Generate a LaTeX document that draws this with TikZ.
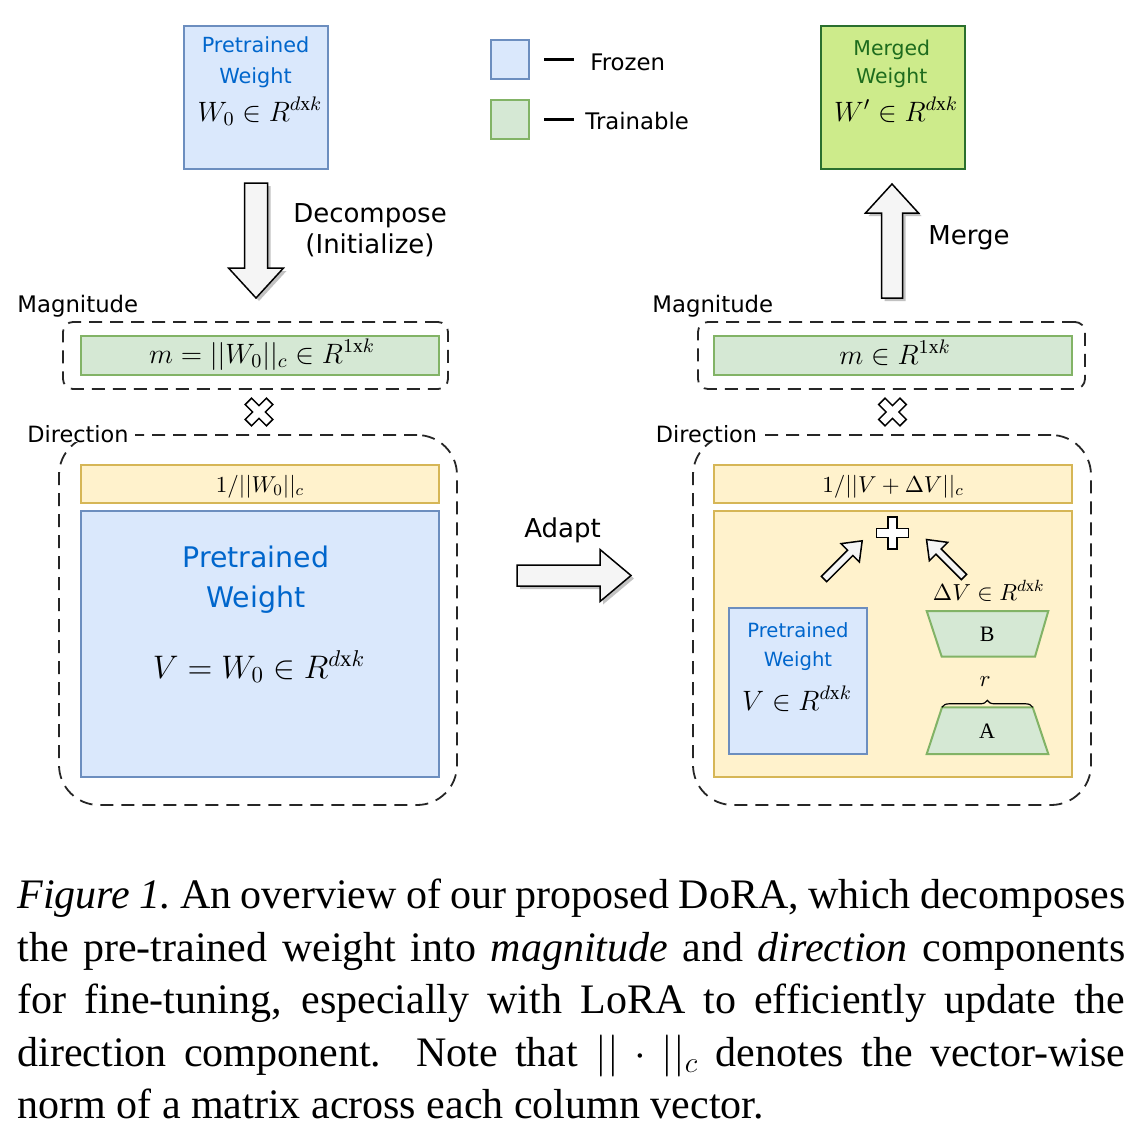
\RequirePackage{fix-cm}
\documentclass[tikz,border=0pt]{standalone}
\usepackage{amsmath}
\usepackage{fontspec}
\setmainfont{Liberation Serif}
\setsansfont{DejaVu Sans}
\usetikzlibrary{positioning, shadows, decorations.pathreplacing}

\definecolor{frozenfill}{HTML}{DAE8FC}
\definecolor{frozenline}{HTML}{6C8EBF}
\definecolor{frozentext}{HTML}{0066CC}
\definecolor{trainfill}{HTML}{D5E8D4}
\definecolor{trainline}{HTML}{82B366}
\definecolor{normfill}{HTML}{FFF2CC}
\definecolor{normline}{HTML}{D6B656}
\definecolor{mergefill}{HTML}{CDEB8B}
\definecolor{mergeline}{HTML}{2A6F2E}
\definecolor{mergetext}{HTML}{1D6B1D}
\definecolor{arrowfill}{HTML}{F5F5F5}

% fat outlined arrow: position, angle, length, shaft half, head half, head length
\newcommand{\fatarrow}[7][]{%
  \filldraw[fatarr, #1, shift={#2}, rotate=#3]
    (0,-#5) -- ({#4-#7},-#5) -- ({#4-#7},-#6) -- (#4,0)
    -- ({#4-#7},#6) -- ({#4-#7},#5) -- (0,#5) -- cycle;}
% plus sign, rotated for the times sign
\newcommand{\opsign}[3]{%
  \filldraw[opsym, shift={#1}, rotate=#2]
    (-#3,-4.5) -- (-4.5,-4.5) -- (-4.5,-#3) -- (4.5,-#3) -- (4.5,-4.5)
    -- (#3,-4.5) -- (#3,4.5) -- (4.5,4.5) -- (4.5,#3) -- (-4.5,#3)
    -- (-4.5,4.5) -- (-#3,4.5) -- cycle;}

\begin{document}
\begin{tikzpicture}[x=0.5pt, y=-0.5pt,
  box/.style={anchor=north west, inner sep=0pt, outer sep=0pt, line width=1pt},
  frozen/.style={box, draw=frozenline, fill=frozenfill},
  trainable/.style={box, draw=trainline, fill=trainfill},
  normbox/.style={box, draw=normline, fill=normfill},
  mergedbox/.style={box, draw=mergeline, fill=mergefill},
  dashbox/.style={box, draw=black!85, line width=0.9pt, dash pattern=on 6.5pt off 4pt},
  lbl/.style={inner sep=0pt, anchor=base, font=\fontsize{#1}{#1}\selectfont\sffamily},
  lbl/.default=11.4,
  mth/.style={inner sep=0pt, anchor=base, font=\fontsize{#1}{#1}\selectfont},
  mth/.default=14,
  fatarr/.style={draw=black, fill=arrowfill, line width=0.75pt, line join=miter},
  shadowed/.style={drop shadow={shadow xshift=1.5pt, shadow yshift=-1.5pt, fill=black!40, opacity=0.6}},
  opsym/.style={draw=black, fill=white, line width=0.75pt},
  lorafill/.style={draw=trainline, fill=trainfill, line width=1pt},
]
\useasboundingbox (0,0) rectangle (1129,1135);

% ---- top row
\node[frozen, minimum width=72pt, minimum height=71.5pt] (pw0) at (184,26) {};
\node[lbl=10.4, text=frozentext] (pw0a) at (255.5,53) {Pretrained};
\node[lbl=10.4, text=frozentext] (pw0b) at (255.5,83) {Weight};
\node[mth] (pw0m) at (260,121) {$W_0 \in R^{d\mathrm{x}k}$};

\node[frozen, minimum width=19pt, minimum height=19.5pt] (legF) at (491,40) {};
\node[trainable, minimum width=19pt, minimum height=19.5pt] (legT) at (491,100) {};
\draw[line width=1.5pt] ([xshift=7.5pt]legF.east) -- ++(15pt,0);
\draw[line width=1.5pt] ([xshift=7.5pt]legT.east) -- ++(15pt,0);
\node[lbl, anchor=base west] (frz) at (590,70) {Frozen};
\node[lbl, anchor=base west] (trn) at (585,129) {Trainable};

\node[mergedbox, minimum width=72pt, minimum height=71.5pt] (mw) at (821,26) {};
\node[lbl=10.2, text=mergetext] (mwa) at (891.7,55) {Merged};
\node[lbl=10.2, text=mergetext] (mwb) at (891.7,83) {Weight};
\node[mth] (mwm) at (896,121) {$W' \in R^{d\mathrm{x}k}$};

% ---- big arrows
\fatarrow[shadowed]{(256,183)}{-90}{115}{11.5}{27.5}{30}
\node[lbl=13] (dec) at (370,222) {Decompose};
\node[lbl=13] (ini) at (370,253) {(Initialize)};
\fatarrow[shadowed]{(892,298)}{90}{114}{10.5}{26.5}{29}
\node[lbl=13] (mrg) at (969,244) {Merge};
\fatarrow[shadowed]{(517,575.5)}{0}{114}{10.5}{26}{31}
\node[lbl=13] (adp) at (562.5,537) {Adapt};

% ---- left: decomposition
\node[lbl, anchor=base west] (magL) at (17,312) {Magnitude};
\node[dashbox, rounded corners=5pt, minimum width=192.5pt, minimum height=33.5pt] (magboxL) at (63,322) {};
\node[trainable, minimum width=179pt, minimum height=19.5pt] (mL) at (81,336) {};
\node[mth] (mLm) at (262,363) {$m = ||W_0||_c \in R^{1\mathrm{x}k}$};
\opsign{(259,412)}{45}{15}

\node[dashbox, rounded corners=20pt, minimum width=199pt, minimum height=185pt] (dirboxL) at (59,435) {};
\node[lbl=11.2, fill=white, inner xsep=3pt] (dirL) at (78,442) {Direction};
\node[normbox, minimum width=179pt, minimum height=19pt] (nL) at (81,465) {};
\node[mth=11.5] (nLm) at (260,492) {$1/||W_0||_c$};
\node[frozen, minimum width=179pt, minimum height=133pt] (vL) at (81,511) {};
\node[lbl=14.2, text=frozentext] (vLa) at (256,567) {Pretrained};
\node[lbl=14.2, text=frozentext] (vLb) at (256,607) {Weight};
\node[mth=16.3] (vLm) at (259,678) {$V = W_0 \in R^{d\mathrm{x}k}$};

% ---- right: DoRA
\node[lbl, anchor=base west] (magR) at (652,312) {Magnitude};
\node[dashbox, rounded corners=5pt, minimum width=193.5pt, minimum height=33.5pt] (magboxR) at (698,322) {};
\node[trainable, minimum width=179pt, minimum height=19.5pt] (mR) at (714,336) {};
\node[mth] (mRm) at (895,364) {$m \in R^{1\mathrm{x}k}$};
\opsign{(892.5,412)}{45}{15}

\node[dashbox, rounded corners=20pt, minimum width=199pt, minimum height=185pt] (dirboxR) at (693,435) {};
\node[lbl=11.2, fill=white, inner xsep=3pt] (dirR) at (706.5,442) {Direction};
\node[normbox, minimum width=179pt, minimum height=19pt] (nR) at (714,465) {};
\node[mth=11.5] (nRm) at (893,492) {$1/||V+\Delta V||_c$};
\node[normbox, minimum width=179pt, minimum height=133pt] (adR) at (714,511) {};

\opsign{(892.5,533)}{0}{16}
\fatarrow{(824,579)}{45}{54}{3.75}{13}{17}
\fatarrow{(964,577)}{135}{53}{3.75}{13}{17}

\node[frozen, minimum width=69pt, minimum height=73pt] (vR) at (729,608) {};
\node[lbl=9.8, text=frozentext] (vRa) at (798,637) {Pretrained};
\node[lbl=9.8, text=frozentext] (vRb) at (798,666) {Weight};
\node[mth] (vRm) at (797,710) {$V \in R^{d\mathrm{x}k}$};

\node[mth=11.6] (dV) at (988.7,600) {$\Delta V \in R^{d\mathrm{x}k}$};
\filldraw[lorafill] (926.7,611) -- (1048.3,611) -- (1035,656.7) -- (941.7,656.7) -- cycle;
\node[mth=11] (lB) at (987.3,641.7) {B};
\coordinate (a-tl) at (942,707.3);
\coordinate (a-tr) at (1032.7,707.3);
\filldraw[lorafill] (a-tl) -- (a-tr) -- (1048.3,754) -- (926.7,754) -- cycle;
\node[mth=11] (lA) at (987,738.3) {A};
\draw[line width=0.6pt, decorate, decoration={brace, amplitude=3.5pt}] (a-tl) -- (a-tr);
\node[mth=11.5] (lr) at (985,686.7) {$r$};

% ---- caption
\node[anchor=north west, inner sep=0pt, text width=554pt, align=justify,
  font=\fontsize{21}{26.2}\selectfont] (cap) at (17,879)
  {\hyphenpenalty=10000\textit{Figure 1.}\ An overview of our proposed DoRA, which decomposes\linebreak
   the pre-trained weight into \emph{magnitude} and \emph{direction} components\linebreak
   for fine-tuning, especially with LoRA to efficiently update the\linebreak
   direction component. Note that $||\cdot||_c$ denotes the vector-wise\linebreak
   norm of a matrix across each column vector.};
\end{tikzpicture}
\end{document}
